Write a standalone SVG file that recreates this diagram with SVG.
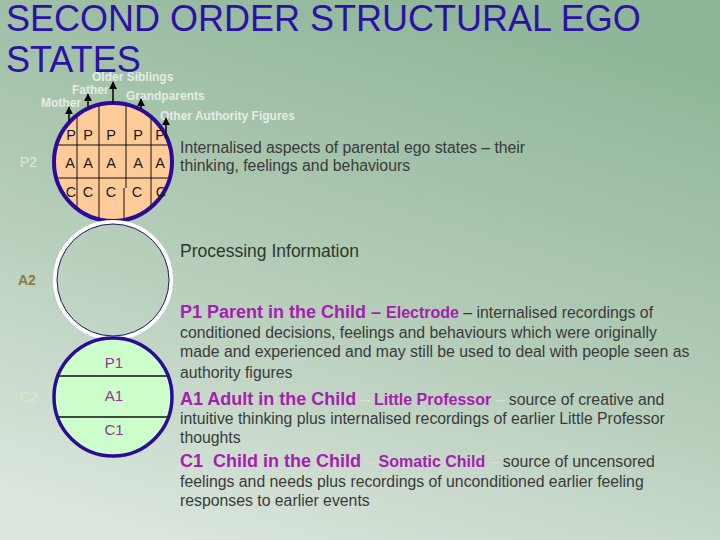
<svg xmlns="http://www.w3.org/2000/svg" width="720" height="540" viewBox="0 0 720 540">
<defs>
<linearGradient id="bg" x1="0.65" y1="0" x2="0.25" y2="1">
<stop offset="0" stop-color="#8fb699"/>
<stop offset="0.5" stop-color="#b2cbb6"/>
<stop offset="1" stop-color="#dae5dc"/>
</linearGradient>
<clipPath id="clipTop"><circle cx="113" cy="162" r="59"/></clipPath>
<clipPath id="clipBot"><circle cx="113" cy="397" r="59"/></clipPath>
<marker id="arr" viewBox="0 0 10 10" refX="9" refY="5" markerWidth="8" markerHeight="8" markerUnits="userSpaceOnUse" orient="auto">
<path d="M0,0 L10,5 L0,10 z" fill="#000"/>
</marker>
<style>
text{font-family:"Liberation Sans",Arial,sans-serif}
.title{font-size:36px;fill:#2c12a4}
.who{font-size:12px;font-weight:bold;fill:#e4ece4}
.cell{font-size:14.5px;fill:#1a1a1a;text-anchor:middle}
.grid{stroke:#111;stroke-width:1;fill:none}
.body{font-size:15.8px;fill:#3a3a3a}
.hd{font-size:18px;font-weight:bold;fill:#a51fae}
.sub{font-size:16px;font-weight:bold;fill:#a51fae}
.lt{fill:#d6e0d6}
.inner{font-size:15px;fill:#993399;text-anchor:middle}
.arrow{stroke:#000;stroke-width:1.5;fill:none}
</style>
</defs>
<rect width="720" height="540" fill="url(#bg)"/>

<g id="title">
<text class="title" x="6" y="31">SECOND ORDER STRUCTURAL EGO</text>
<text class="title" x="6" y="72">STATES</text>
</g>

<g id="figure-labels">
<text class="who" x="92" y="81">Older Siblings</text>
<text class="who" x="72" y="94">Father</text>
<text class="who" x="126" y="100">Grandparents</text>
<text class="who" x="41" y="107">Mother</text>
<text class="who" x="160" y="120">Other Authority Figures</text>
</g>

<g id="p2">
<circle cx="113" cy="162" r="59" fill="#ffcc99"/>
<g clip-path="url(#clipTop)">
<line class="grid" x1="40" y1="145" x2="190" y2="145"/>
<line class="grid" x1="40" y1="178" x2="190" y2="178"/>
<line class="grid" x1="77" y1="90" x2="77" y2="230"/>
<line class="grid" x1="99" y1="90" x2="99" y2="230"/>
<line class="grid" x1="126" y1="90" x2="126" y2="188"/>
<line class="grid" x1="124" y1="188" x2="124" y2="230"/>
<line class="grid" x1="151" y1="90" x2="151" y2="230"/>
</g>
<circle cx="113" cy="162" r="59" fill="none" stroke="#2a0c98" stroke-width="4"/>
<text class="cell" x="71" y="140">P</text><text class="cell" x="88" y="140">P</text><text class="cell" x="111" y="140">P</text><text class="cell" x="138" y="140">P</text><text class="cell" x="160" y="140">P</text>
<text class="cell" x="70" y="168">A</text><text class="cell" x="88" y="168">A</text><text class="cell" x="111" y="168">A</text><text class="cell" x="138" y="168">A</text><text class="cell" x="160" y="168">A</text>
<text class="cell" x="71" y="197">C</text><text class="cell" x="88" y="197">C</text><text class="cell" x="111" y="197">C</text><text class="cell" x="137" y="197">C</text><text class="cell" x="161" y="197">C</text>
<text x="20" y="167" font-size="14" fill="#dfe9e0">P2</text>
</g>

<g id="a2">
<circle cx="113" cy="280" r="58" fill="none" stroke="#ffffff" stroke-width="4"/>
<circle cx="113" cy="280" r="56" fill="none" stroke="#1e1e5a" stroke-width="1"/>
<text x="18" y="285" font-size="14" font-weight="bold" fill="#8a7a4c">A2</text>
</g>

<g id="c2">
<circle cx="113" cy="397" r="59" fill="#ccffcc"/>
<g clip-path="url(#clipBot)">
<line x1="40" y1="376" x2="190" y2="376" stroke="#111" stroke-width="1.5"/>
<line x1="40" y1="417" x2="190" y2="417" stroke="#111" stroke-width="1.5"/>
</g>
<circle cx="113" cy="397" r="59" fill="none" stroke="#2a0c98" stroke-width="3.5"/>
<text class="inner" x="114" y="368">P1</text>
<text class="inner" x="114" y="401">A1</text>
<text class="inner" x="114" y="435">C1</text>
<text x="20" y="402" font-size="14" fill="#d6efb6">C2</text>
</g>

<g id="connectors">
<line class="arrow" x1="69" y1="121" x2="69" y2="107" marker-end="url(#arr)"/>
<line class="arrow" x1="88" y1="107" x2="88" y2="94" marker-end="url(#arr)"/>
<line class="arrow" x1="113" y1="103" x2="113" y2="82" marker-end="url(#arr)"/>
<line class="arrow" x1="141" y1="109" x2="141" y2="99" marker-end="url(#arr)"/>
<line class="arrow" x1="166" y1="138" x2="166" y2="118" marker-end="url(#arr)"/>
</g>

<g id="descriptions">
<text class="body" x="180" y="153">Internalised aspects of parental ego states – their</text>
<text class="body" x="180" y="171">thinking, feelings and behaviours</text>
<text x="180" y="257" font-size="17.5px" fill="#2a3a2a">Processing Information</text>

<text x="180" y="318"><tspan class="hd">P1 Parent in the Child</tspan><tspan class="hd" font-weight="normal"> – </tspan><tspan class="sub">Electrode</tspan><tspan class="body"> – internalised recordings of</tspan></text>
<text class="body" x="180" y="338">conditioned decisions, feelings and behaviours which were originally</text>
<text class="body" x="180" y="357">made and experienced and may still be used to deal with people seen as</text>
<text class="body" x="180" y="378">authority figures</text>

<text x="180" y="405"><tspan class="hd">A1 Adult in the Child</tspan><tspan class="body lt"> – </tspan><tspan class="sub">Little Professor</tspan><tspan class="body"><tspan class="lt"> –</tspan> source of creative and</tspan></text>
<text class="body" x="180" y="424">intuitive thinking plus internalised recordings of earlier Little Professor</text>
<text class="body" x="180" y="443">thoughts</text>

<text x="180" y="467"><tspan class="hd">C1&#160; Child in the Child</tspan><tspan class="body lt"> – </tspan><tspan class="sub">Somatic Child</tspan><tspan class="body"><tspan class="lt"> –</tspan> source of uncensored</tspan></text>
<text class="body" x="180" y="487">feelings and needs plus recordings of unconditioned earlier feeling</text>
<text class="body" x="180" y="506">responses to earlier events</text>
</g>
</svg>
